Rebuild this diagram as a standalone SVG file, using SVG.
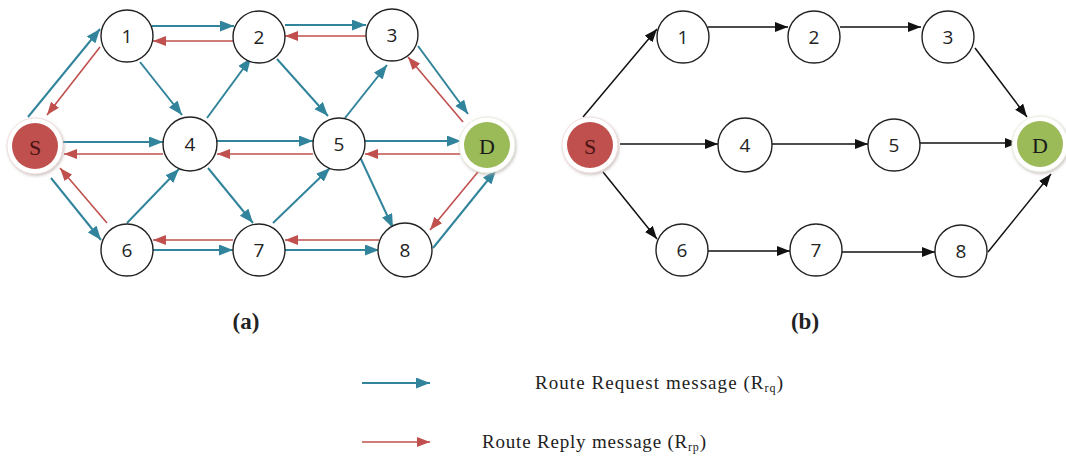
<svg xmlns="http://www.w3.org/2000/svg" width="1066" height="463" viewBox="0 0 1066 463">
  <style>
    .node { fill: #ffffff; stroke: #222222; stroke-width: 1.4; }
    .num { font-family: "Open Sans", "Liberation Sans", sans-serif; font-size: 19px; fill: #222222; text-anchor: middle; dominant-baseline: central; }
    .end { font-family: "Liberation Serif", serif; font-size: 22px; text-anchor: middle; dominant-baseline: central; }
    .rq { stroke: #31849b; stroke-width: 2; fill: none; marker-end: url(#ahTeal); }
    .rp { stroke: #c0504d; stroke-width: 1.6; fill: none; marker-end: url(#ahRed); }
    .bk { stroke: #111111; stroke-width: 1.5; fill: none; marker-end: url(#ahBlack); }
    .cap { font-family: "Liberation Serif", serif; font-size: 23px; font-weight: bold; fill: #222222; text-anchor: middle; }
    .leg { font-family: "Liberation Serif", serif; font-size: 19px; fill: #222222; }
    .sub { font-size: 12px; }
  </style>
  <defs>
    <marker id="ahTeal" markerUnits="userSpaceOnUse" markerWidth="15" markerHeight="12" refX="14" refY="5.5" orient="auto">
      <path d="M0,0 L14,5.5 L0,11 Z" fill="#31849b"/>
    </marker>
    <marker id="ahRed" markerUnits="userSpaceOnUse" markerWidth="14" markerHeight="12" refX="13" refY="5" orient="auto">
      <path d="M0,0 L13,5 L0,10 Z" fill="#c0504d"/>
    </marker>
    <marker id="ahBlack" markerUnits="userSpaceOnUse" markerWidth="14" markerHeight="12" refX="13" refY="5" orient="auto">
      <path d="M0,0 L13,5 L0,10 Z" fill="#111111"/>
    </marker>
    <filter id="halo" x="-30%" y="-30%" width="160%" height="160%">
      <feDropShadow dx="1" dy="1.5" stdDeviation="1.5" flood-color="#b8a8a8" flood-opacity="0.7"/>
    </filter>
  </defs>

  <rect width="1066" height="463" fill="#ffffff"/>

  <!-- connectors, panel (a): request (teal) and reply (red) -->
  <g id="connectors-a">
    <line class="rq" x1="28" y1="117" x2="100" y2="29"/>
    <line class="rq" x1="152" y1="26" x2="234" y2="26"/>
    <line class="rq" x1="285" y1="25" x2="366" y2="25"/>
    <line class="rq" x1="418" y1="46" x2="468" y2="114"/>
    <line class="rq" x1="62" y1="142" x2="163" y2="142"/>
    <line class="rq" x1="217" y1="141" x2="313" y2="141"/>
    <line class="rq" x1="365" y1="141" x2="461" y2="141"/>
    <line class="rq" x1="51" y1="178" x2="101" y2="240"/>
    <line class="rq" x1="153" y1="250" x2="233" y2="250"/>
    <line class="rq" x1="285" y1="250" x2="379" y2="250"/>
    <line class="rq" x1="433" y1="248" x2="496" y2="170"/>
    <line class="rq" x1="140" y1="62" x2="182" y2="115"/>
    <line class="rq" x1="207" y1="118" x2="251" y2="58"/>
    <line class="rq" x1="277" y1="59" x2="328" y2="116"/>
    <line class="rq" x1="345" y1="118" x2="387" y2="65"/>
    <line class="rq" x1="127" y1="223" x2="179" y2="169"/>
    <line class="rq" x1="208" y1="168" x2="253" y2="223"/>
    <line class="rq" x1="273" y1="223" x2="330" y2="168"/>
    <line class="rq" x1="360" y1="157" x2="393" y2="228"/>

    <line class="rp" x1="100" y1="47" x2="47" y2="115"/>
    <line class="rp" x1="234" y1="41" x2="153" y2="41"/>
    <line class="rp" x1="366" y1="36" x2="285" y2="36"/>
    <line class="rp" x1="463" y1="122" x2="408" y2="57"/>
    <line class="rp" x1="163" y1="154" x2="64" y2="154"/>
    <line class="rp" x1="313" y1="154" x2="217" y2="154"/>
    <line class="rp" x1="461" y1="154" x2="365" y2="154"/>
    <line class="rp" x1="107" y1="223" x2="60" y2="168"/>
    <line class="rp" x1="233" y1="240" x2="153" y2="240"/>
    <line class="rp" x1="379" y1="240" x2="285" y2="240"/>
    <line class="rp" x1="482" y1="167" x2="430" y2="230"/>
  </g>

  <!-- connectors, panel (b): selected disjoint routes -->
  <g id="connectors-b">
    <line class="bk" x1="583" y1="117" x2="657" y2="29"/>
    <line class="bk" x1="708" y1="27" x2="788" y2="27"/>
    <line class="bk" x1="840" y1="27" x2="921" y2="27"/>
    <line class="bk" x1="975" y1="48" x2="1027" y2="117"/>
    <line class="bk" x1="620" y1="144" x2="718" y2="144"/>
    <line class="bk" x1="772" y1="144" x2="868" y2="144"/>
    <line class="bk" x1="920" y1="143" x2="1018" y2="143"/>
    <line class="bk" x1="603" y1="172" x2="657" y2="239"/>
    <line class="bk" x1="708" y1="251" x2="790" y2="251"/>
    <line class="bk" x1="842" y1="252" x2="935" y2="252"/>
    <line class="bk" x1="988" y1="252" x2="1051" y2="174"/>
  </g>

  <!-- nodes, panel (a) -->
  <g id="a-S">
    <circle cx="35" cy="146" r="28" fill="#ffffff" stroke="#f0dede" stroke-width="1" filter="url(#halo)"/>
    <circle cx="35" cy="146" r="23" fill="#c0504d"/>
    <text class="end" x="35" y="147" fill="#4a1414">S</text>
  </g>
  <g id="a-1"><circle class="node" cx="127" cy="36" r="26"/><text class="num" x="127" y="36">1</text></g>
  <g id="a-2"><circle class="node" cx="259" cy="37" r="26"/><text class="num" x="259" y="37">2</text></g>
  <g id="a-3"><circle class="node" cx="392" cy="35" r="26"/><text class="num" x="392" y="35">3</text></g>
  <g id="a-4"><circle class="node" cx="190" cy="144" r="27"/><text class="num" x="190" y="144">4</text></g>
  <g id="a-5"><circle class="node" cx="339" cy="144" r="26"/><text class="num" x="339" y="144">5</text></g>
  <g id="a-6"><circle class="node" cx="127" cy="250" r="26"/><text class="num" x="127" y="250">6</text></g>
  <g id="a-7"><circle class="node" cx="259" cy="250" r="26"/><text class="num" x="259" y="250">7</text></g>
  <g id="a-8"><circle class="node" cx="405" cy="250" r="27"/><text class="num" x="405" y="250">8</text></g>
  <g id="a-D">
    <circle cx="487" cy="145" r="28" fill="#ffffff" stroke="#e6eedc" stroke-width="1" filter="url(#halo)"/>
    <circle cx="487" cy="145" r="23" fill="#9bbb59"/>
    <text class="end" x="487" y="146" fill="#1a1a1a">D</text>
  </g>

  <!-- nodes, panel (b) -->
  <g id="b-S">
    <circle cx="590" cy="145" r="28" fill="#ffffff" stroke="#f0dede" stroke-width="1" filter="url(#halo)"/>
    <circle cx="590" cy="145" r="23" fill="#c0504d"/>
    <text class="end" x="590" y="146" fill="#4a1414">S</text>
  </g>
  <g id="b-1"><circle class="node" cx="683" cy="37" r="26"/><text class="num" x="683" y="37">1</text></g>
  <g id="b-2"><circle class="node" cx="814" cy="37" r="26"/><text class="num" x="814" y="37">2</text></g>
  <g id="b-3"><circle class="node" cx="948" cy="37" r="26"/><text class="num" x="948" y="37">3</text></g>
  <g id="b-4"><circle class="node" cx="745" cy="145" r="27"/><text class="num" x="745" y="145">4</text></g>
  <g id="b-5"><circle class="node" cx="894" cy="145" r="26"/><text class="num" x="894" y="145">5</text></g>
  <g id="b-6"><circle class="node" cx="682" cy="250" r="26"/><text class="num" x="682" y="250">6</text></g>
  <g id="b-7"><circle class="node" cx="816" cy="250" r="26"/><text class="num" x="816" y="250">7</text></g>
  <g id="b-8"><circle class="node" cx="961" cy="251" r="26"/><text class="num" x="961" y="251">8</text></g>
  <g id="b-D">
    <circle cx="1040" cy="144" r="28" fill="#ffffff" stroke="#e6eedc" stroke-width="1" filter="url(#halo)"/>
    <circle cx="1040" cy="144" r="23" fill="#9bbb59"/>
    <text class="end" x="1040" y="145" fill="#1a1a1a">D</text>
  </g>

  <!-- panel captions -->
  <text class="cap" x="246" y="329">(a)</text>
  <text class="cap" x="805" y="329">(b)</text>

  <!-- legend -->
  <g id="legend">
    <line class="rq" x1="362" y1="383" x2="430" y2="383"/>
    <text class="leg" x="535" y="389" textLength="248" lengthAdjust="spacing">Route Request message (R<tspan class="sub" dy="3">rq</tspan><tspan dy="-3">)</tspan></text>
    <line class="rp" x1="362" y1="442" x2="430" y2="442"/>
    <text class="leg" x="482" y="448" textLength="224" lengthAdjust="spacing">Route Reply message (R<tspan class="sub" dy="3">rp</tspan><tspan dy="-3">)</tspan></text>
  </g>
</svg>
